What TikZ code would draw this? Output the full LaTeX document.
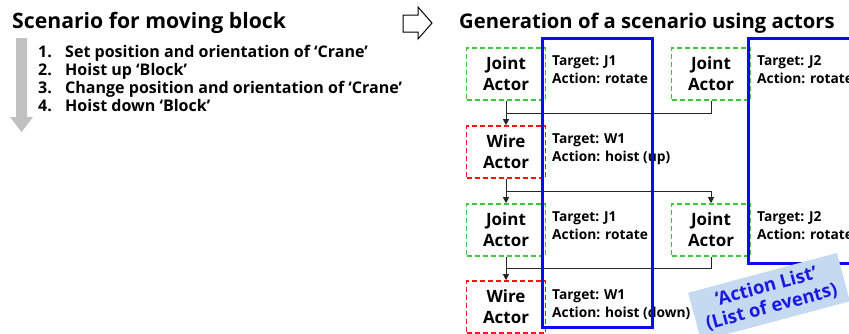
\documentclass[tikz,border=0pt]{standalone}
\usepackage{fontspec}
\setmainfont{Open Sans}
\usetikzlibrary{arrows.meta,calc}

\definecolor{actgreen}{RGB}{60,200,60}
\definecolor{actred}{RGB}{255,20,20}
\definecolor{listblue}{RGB}{10,10,245}
\definecolor{tagfill}{RGB}{197,217,241}
\definecolor{tagtext}{RGB}{25,25,225}
\definecolor{scenegray}{RGB}{192,192,192}

\tikzset{
  actor/.style={draw, line width=1.6bp, dash pattern=on 5bp off 3bp,
    minimum width=79bp, minimum height=52bp, inner sep=0bp, align=center,
    font=\bfseries\fontsize{17}{21}\selectfont},
  jointactor/.style={actor, draw=actgreen},
  wireactor/.style={actor, draw=actred},
  actionlbl/.style={anchor=base west, inner sep=0bp, align=left,
    font=\bfseries\fontsize{13.8}{18}\selectfont},
  heading/.style={anchor=base west, inner sep=0bp, font=\bfseries\fontsize{21.3}{24}\selectfont},
  item/.style={anchor=base west, inner sep=0bp, font=\bfseries\fontsize{16.1}{18}\selectfont},
  flow/.style={draw=black!85, line width=0.9bp},
  flowarr/.style={flow, -{Triangle[length=6bp,width=6bp]}},
  actionlist/.style={draw=listblue, line width=3bp}
}

\begin{document}
\begin{tikzpicture}[x=1bp,y=-1bp]
\useasboundingbox (0,0) rectangle (849,333);
\clip (0,0) rectangle (849,333);

% left side: the scenario steps
\node[heading] (title1) at (12,28) {Scenario for moving block};
\fill[scenegray] (16,38) -- (27,38) -- (27,117) -- (33,117) -- (21.5,132)
  -- (10,117) -- (16,117) -- cycle;
\node[item] (n1) at (38,57) {1.};
\node[item] (n2) at (38,75) {2.};
\node[item] (n3) at (38,93) {3.};
\node[item] (n4) at (38,111) {4.};
\node[item] (s1) at (65,57) {Set position and orientation of ‘Crane’};
\node[item] (s2) at (65,75) {Hoist up ‘Block’};
\node[item] (s3) at (65,93) {Change position and orientation of ‘Crane’};
\node[item] (s4) at (65,111) {Hoist down ‘Block’};

% hollow arrow between the two halves
\draw[line width=1bp, fill=white] (403,15) -- (418,15) -- (418,7) -- (432,23)
  -- (418,39) -- (418,32) -- (403,32) -- cycle;

% right side: actors
\node[heading, font=\bfseries\fontsize{20.3}{24}\selectfont] (title2) at (459,28)
  {Generation of a scenario using actors};

\node[jointactor] (j1) at (506,74) {Joint\\Actor};
\node[jointactor] (j2) at (711,74) {Joint\\Actor};
\node[wireactor]  (w1) at (506,152) {Wire\\Actor};
\node[jointactor] (j3) at (506,230) {Joint\\Actor};
\node[jointactor] (j4) at (711,230) {Joint\\Actor};
\node[wireactor]  (w2) at (506,307) {Wire\\Actor};

% labels: the anchor sits on the baseline of the second line
\node[actionlbl] (a1) at (552,83) {Target: J1\\Action: rotate};
\node[actionlbl] (a2) at (757,83) {Target: J2\\Action: rotate};
\node[actionlbl] (a3) at (552,161) {Target: W1\\Action: hoist (up)};
\node[actionlbl] (a4) at (552,239) {Target: J1\\Action: rotate};
\node[actionlbl] (a5) at (757,239) {Target: J2\\Action: rotate};
\node[actionlbl] (a6) at (552,317) {Target: W1\\Action: hoist (down)};

% connectors
\coordinate (m1) at ($(j1.south)!0.5!(w1.north)$);
\coordinate (m2) at ($(w1.south)!0.5!(j3.north)$);
\coordinate (m3) at ($(j3.south)!0.5!(w2.north)$);
\draw[flowarr] (j1.south) -- (w1.north);
\draw[flow] (j2.south) |- (m1);
\draw[flow] (w1.south) -- (m2);
\draw[flowarr] (m2) -| (j4.north);
\draw[flowarr] (m2) -- (j3.north);
\draw[flowarr] (j3.south) -- (w2.north);
\draw[flow] (j4.south) |- (m3);

% action lists
\draw[actionlist] (542,38) rectangle (652,327);
\draw[actionlist] (748,38) rectangle (880,263);

\node[fill=tagfill, text=tagtext, rotate=15, minimum width=154bp, minimum height=50bp,
  align=center, inner sep=2bp, font=\bfseries\fontsize{18.5}{21}\selectfont]
  (tag) at (769,297) {‘Action List’\\(List of events)};
\end{tikzpicture}
\end{document}
